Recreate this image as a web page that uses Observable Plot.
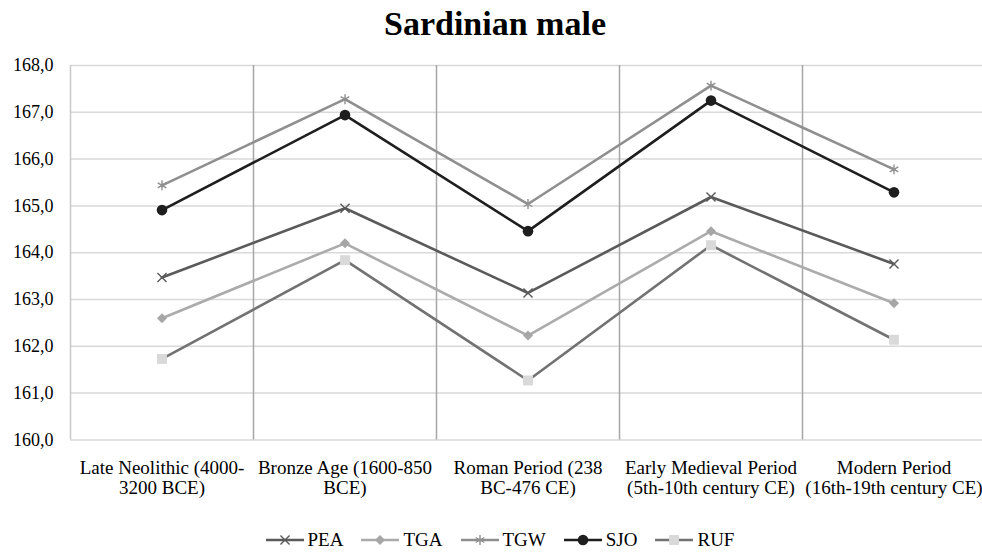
<!DOCTYPE html>
<html><head><meta charset="utf-8">
<script src="https://cdn.jsdelivr.net/npm/d3@7"></script>
<script src="https://cdn.jsdelivr.net/npm/@observablehq/plot@0.6"></script>
<style>
body{margin:0;background:#fff;color:#000;font-family:'Liberation Serif',serif;}
#title{height:52px;text-align:center;font-weight:bold;font-size:34px;line-height:48px;padding-left:8px;box-sizing:border-box;}
#chart{height:453px;}
#legend{display:flex;justify-content:center;align-items:center;height:48px;padding-top:22px;padding-left:36px;box-sizing:border-box;font-size:19px;}
.item{display:flex;align-items:center;margin-right:18px;}
.item span{margin-left:4px;}
</style>
</head><body>
<div id="title">Sardinian male</div>
<div id="chart"></div>
<div id="legend"></div>
<script>
const categories = [
  "Late Neolithic (4000-\n3200 BCE)",
  "Bronze Age (1600-850\nBCE)",
  "Roman Period (238\nBC-476 CE)",
  "Early Medieval Period\n(5th-10th century CE)",
  "Modern Period\n(16th-19th century CE)"
];
const seriesNames = ["PEA", "TGA", "TGW", "SJO", "RUF"];
const PEA = [163.47, 164.95, 163.14, 165.19, 163.76];
const TGA = [162.60, 164.20, 162.23, 164.46, 162.92];
const TGW = [165.44, 167.28, 165.04, 167.57, 165.78];
const SJO = [164.91, 166.94, 164.46, 167.25, 165.29];
const RUF = [161.73, 163.84, 161.27, 164.16, 162.14];
const yTicks = [160, 161, 162, 163, 164, 165, 166, 167, 168];

const seriesValues = [PEA, TGA, TGW, SJO, RUF];
const lineColors = ["#5a5a5a", "#ababab", "#8f8f8f", "#1e1e1e", "#727272"];
const markerColors = ["#5a5a5a", "#a6a6a6", "#8f8f8f", "#1e1e1e", "#d9d9d9"];
const markerSymbols = ["times", "diamond2", "asterisk", "circle", "square"];
const markerR = [4.2, 4.5, 4.7, 5.3, 5.6];
const strokeOnly = [true, false, true, false, false];

const data = [];
seriesNames.forEach((s, k) => seriesValues[k].forEach((v, i) => data.push({series: s, i, value: v})));

const marks = [
  Plot.gridY(yTicks, {stroke: "#d9d9d9", strokeOpacity: 1, strokeWidth: 1.5}),
  Plot.ruleX([-0.5], {stroke: "#c8c8c8", strokeWidth: 1.5}),
  Plot.ruleX([0.5, 1.5, 2.5, 3.5], {stroke: "#a6a6a6", strokeWidth: 1.5}),
  Plot.axisY(yTicks, {tickSize: 0, tickPadding: 17, fontSize: 18, label: null,
    tickFormat: d => d.toFixed(1).replace(".", ",")}),
  Plot.axisX([0, 1, 2, 3, 4], {tickSize: 0, tickPadding: 20, fontSize: 19, lineHeight: 1.05, label: null,
    tickFormat: i => categories[i]})
];
seriesNames.forEach((s, k) => {
  const d = data.filter(r => r.series === s);
  marks.push(Plot.line(d, {x: "i", y: "value", stroke: lineColors[k], strokeWidth: 2.6}));
});
seriesNames.forEach((s, k) => {
  const d = data.filter(r => r.series === s);
  marks.push(Plot.dot(d, strokeOnly[k]
    ? {x: "i", y: "value", symbol: () => markerSymbols[k], r: markerR[k], stroke: markerColors[k], strokeWidth: 1.4, fill: "none"}
    : {x: "i", y: "value", symbol: () => markerSymbols[k], r: markerR[k], fill: markerColors[k], stroke: "none"}));
});

const chart = Plot.plot({
  width: 982, height: 453,
  marginLeft: 70, marginRight: -3, marginTop: 13, marginBottom: 65.6,
  style: {fontFamily: "'Liberation Serif', serif", fontSize: "18px", color: "#000", background: "#fff", overflow: "visible"},
  x: {domain: [-0.5, 4.5]},
  y: {domain: [160, 168]},
  symbol: {type: "identity"},
  marks
});
document.getElementById("chart").appendChild(chart);

const symMap = {times: d3.symbolTimes, diamond2: d3.symbolDiamond2, asterisk: d3.symbolAsterisk, circle: d3.symbolCircle, square: d3.symbolSquare};
const legend = d3.select("#legend");
seriesNames.forEach((s, k) => {
  const it = legend.append("div").attr("class", "item");
  const svg = it.append("svg").attr("width", 38).attr("height", 20);
  svg.append("line").attr("x1", 0).attr("x2", 38).attr("y1", 10).attr("y2", 10)
    .attr("stroke", lineColors[k]).attr("stroke-width", 2.6);
  const p = svg.append("path").attr("transform", "translate(19,10)")
    .attr("d", d3.symbol(symMap[markerSymbols[k]], Math.PI * markerR[k] * markerR[k])());
  if (strokeOnly[k]) p.attr("fill", "none").attr("stroke", markerColors[k]).attr("stroke-width", 1.4);
  else p.attr("fill", markerColors[k]);
  it.append("span").text(s);
});
</script>
</body></html>
